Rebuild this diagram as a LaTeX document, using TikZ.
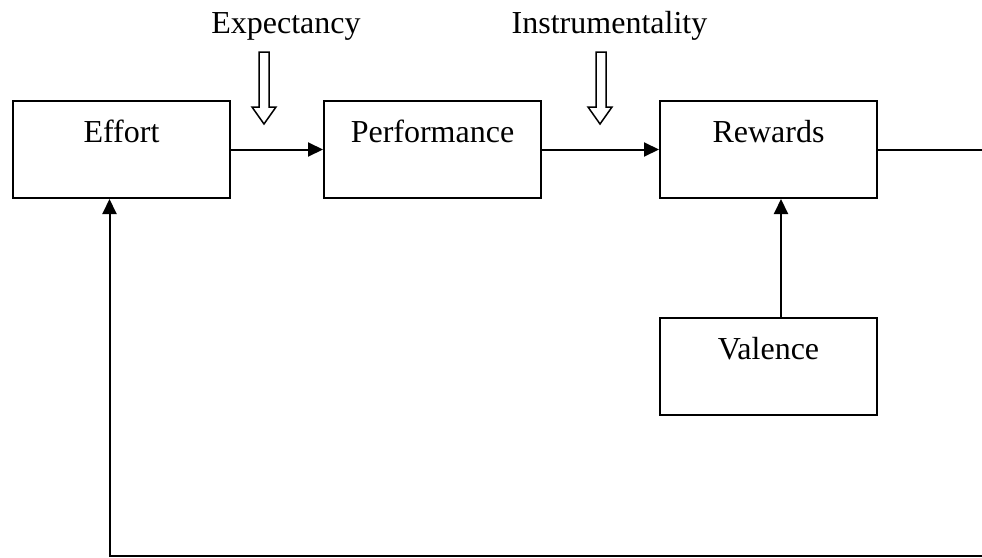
\documentclass[tikz,border=0pt]{standalone}
\usepackage{fontspec}
\setmainfont{Liberation Serif}
\usetikzlibrary{arrows.meta}
\begin{document}
\begin{tikzpicture}[x=1pt,y=-1pt,
  box/.style={draw=black, line width=2pt, inner sep=0pt, minimum width=217pt,
    text height=41pt, text depth=56pt, anchor=north west, align=center,
    font=\fontsize{32}{38}\selectfont},
  lbl/.style={anchor=base, inner sep=0pt, font=\fontsize{32}{38}\selectfont},
  arr/.style={line width=2pt, -{Triangle[length=15pt,width=14pt]}},
  conn/.style={line width=2pt},
  hollow/.style={draw=black, line width=1.5pt, fill=white, line join=miter}]
\useasboundingbox (0,0) rectangle (982,557);
\node[box] (effort) at (12,100) {Effort};
\node[box] (perf) at (323,100) {Performance};
\node[box] (rewards) at (659,100) {Rewards};
\node[box] (valence) at (659,317) {Valence};
\node[lbl] (expect) at (286,33) {Expectancy};
\node[lbl] (instr) at (609.5,33) {Instrumentality};
\coordinate (fb) at (982,556);
\coordinate (rend) at (rewards.east -| fb);
\draw[arr] (effort.east) -- (perf.west);
\draw[arr] (perf.east) -- (rewards.west);
\draw[conn] (rewards.east) -- (rend);
\draw[arr] ([xshift=12.5pt]valence.north) -- ([xshift=12.5pt]rewards.south);
\draw[arr] (fb) -| ([xshift=-12pt]effort.south);
% hollow arrows
\draw[hollow] (259,52) -- (269,52) -- (269,107) -- (276,107) -- (264,124) -- (252,107) -- (259,107) -- cycle;
\draw[hollow] (596,52) -- (606,52) -- (606,107) -- (612,107) -- (600,124) -- (588,107) -- (596,107) -- cycle;
\end{tikzpicture}
\end{document}
